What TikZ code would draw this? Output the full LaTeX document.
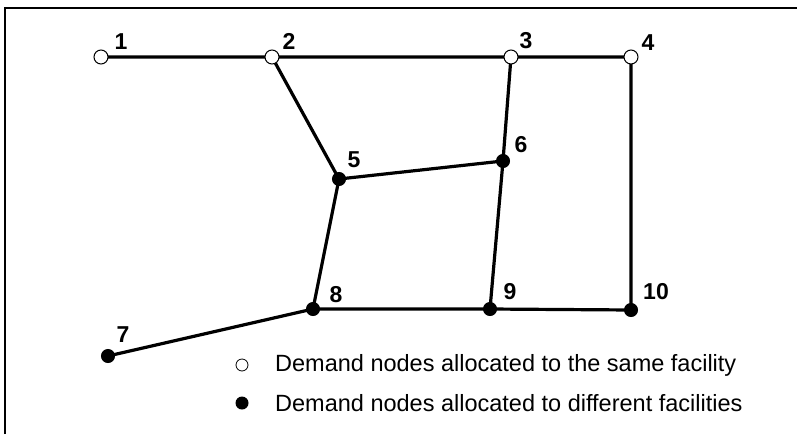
\documentclass[tikz,border=0pt]{standalone}
\usepackage{fontspec}
\setmainfont{Liberation Sans}
\begin{document}
\begin{tikzpicture}[x=1pt,y=-1pt,
  edge/.style={line width=3.2pt},
  opennode/.style={circle,draw,fill=white,line width=1pt,minimum size=14pt,inner sep=0pt},
  fullnode/.style={circle,draw,fill=black,line width=1pt,minimum size=13pt,inner sep=0pt},
  numlab/.style={font=\fontsize{23}{23}\selectfont\bfseries,inner sep=0pt},
  legtext/.style={font=\fontsize{23.5}{23.5}\selectfont,anchor=west,inner sep=0pt}]
\useasboundingbox (0,0) rectangle (797,434);
\draw[line width=1.2pt] (5,434) -- (5,8) -- (797,8);
\coordinate (p1) at (101,57);
\coordinate (p2) at (272,57);
\coordinate (p3) at (511,57);
\coordinate (p4) at (631,57);
\coordinate (p5) at (339,179);
\coordinate (p6) at (503,161);
\coordinate (p7) at (108,356);
\coordinate (p8) at (313,309);
\coordinate (p9) at (490,309);
\coordinate (p10) at (631,310);
\draw[edge] (p1) -- (p2) -- (p3) -- (p4) -- (p10) -- (p9) -- (p8) -- (p7);
\draw[edge] (p2) -- (p5) -- (p6) -- (p3);
\draw[edge] (p5) -- (p8);
\draw[edge] (p6) -- (p9);
\node[opennode] (n1) at (p1) {};
\node[opennode] (n2) at (p2) {};
\node[opennode] (n3) at (p3) {};
\node[opennode] (n4) at (p4) {};
\node[fullnode] (n5) at (p5) {};
\node[fullnode] (n6) at (p6) {};
\node[fullnode] (n7) at (p7) {};
\node[fullnode] (n8) at (p8) {};
\node[fullnode] (n9) at (p9) {};
\node[fullnode] (n10) at (p10) {};
\node[numlab] (l1) at (121,42) {1};
\node[numlab] (l2) at (289,41) {2};
\node[numlab] (l3) at (526,41) {3};
\node[numlab] (l4) at (648,43) {4};
\node[numlab] (l5) at (354,160) {5};
\node[numlab] (l6) at (521,145) {6};
\node[numlab] (l7) at (123,335) {7};
\node[numlab] (l8) at (336,295) {8};
\node[numlab] (l9) at (510,292) {9};
\node[numlab] (l10) at (656,292) {10};
\node[circle,draw,line width=0.8pt,minimum size=12pt,inner sep=0pt] (k1) at (242,365) {};
\node[circle,fill=black,minimum size=13pt,inner sep=0pt] (k2) at (242,403) {};
\node[legtext] (t1) at (275,365) {Demand nodes allocated to the same facility};
\node[legtext] (t2) at (275,403) {Demand nodes allocated to different facilities};
\end{tikzpicture}
\end{document}
